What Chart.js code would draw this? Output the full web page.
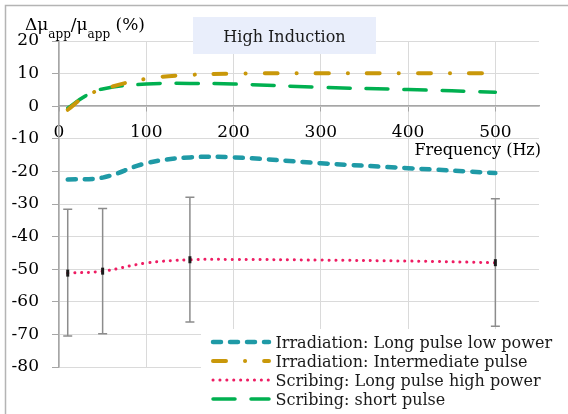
<!DOCTYPE html>
<html>
<head>
<meta charset="utf-8">
<script src="https://cdn.jsdelivr.net/npm/chart.js@4.4.1/dist/chart.umd.min.js"></script>
<style>
  body { margin: 0; background: #fff; }
  canvas { display: block; }
</style>
</head>
<body>
<canvas id="chart1" width="568" height="414"></canvas>
<script>
// values (frequency in Hz, change in %)
const freqIrrLong = [10, 50, 100, 150, 200, 300, 400, 500];
const irrLong = [-22.5, -21.9, -17.5, -15.7, -15.7, -17.5, -19.0, -20.5];
const freqIrrMid = [10, 30, 50, 100, 150, 200, 300, 400, 500];
const irrMid = [-1.1, 3.0, 5.2, 8.4, 9.6, 10.0, 10.1, 10.1, 10.1];
const freqScrLong = [10, 50, 100, 150, 200, 300, 400, 500];
const scrLong = [-51.2, -50.6, -48.1, -47.1, -47.0, -47.2, -47.5, -48.0];
const freqScrShort = [10, 30, 50, 100, 150, 200, 300, 400, 500];
const scrShort = [-0.6, 3.1, 5.3, 6.8, 7.0, 6.8, 5.8, 5.1, 4.3];

// error bars on the scribing long pulse curve
const errFreq = [10, 50, 150, 500];
const errMean = [-51.2, -50.6, -47.1, -48.0];
const errTop = [-31.6, -31.4, -27.9, -28.4];
const errBottom = [-70.5, -69.8, -66.2, -67.5];

const seriesNames = [
  'Irradiation: Long pulse low power',
  'Irradiation: Intermediate pulse',
  'Scribing: Long pulse high power',
  'Scribing: short pulse'
];
const xTicks = [0, 100, 200, 300, 400, 500];

const serif = '"DejaVu Serif", serif';
const fs = 17;   // tick labels
const ts = 16;   // titles and legend

// line looks, shared by the chart and the hand drawn legend
const looks = [
  { color: '#1f9aa6', width: 4.5, dash: [8, 9] },
  { color: '#c9980a', width: 4, dash: [13, 19, 0.1, 19] },
  { color: '#ee1d63', width: 3, dash: [0.1, 6.8] },
  { color: '#00b050', width: 3.5, dash: [22, 16] }
];

function pts(xs, ys) {
  return xs.map((x, i) => ({ x: x, y: ys[i] }));
}

function lineSet(i, xs, ys) {
  return {
    label: seriesNames[i],
    data: pts(xs, ys),
    borderColor: looks[i].color,
    borderWidth: looks[i].width,
    borderDash: looks[i].dash,
    borderCapStyle: 'round',
    pointRadius: 0,
    tension: 0.4,
    fill: false
  };
}

// error bars, title box, axis titles, legend
const decor = {
  id: 'decor',
  beforeDraw(chart) {
    const c = chart.ctx;
    c.save();
    c.fillStyle = '#fff';
    c.fillRect(0, 0, chart.width, chart.height);
    c.restore();
  },
  beforeDatasetsDraw(chart) {
    const c = chart.ctx;
    const xs = chart.scales.x;
    const ys = chart.scales.y;
    c.save();
    c.strokeStyle = '#8c8c8c';
    c.lineWidth = 1.5;
    errFreq.forEach((f, i) => {
      const px = xs.getPixelForValue(f);
      const top = ys.getPixelForValue(errTop[i]);
      const bot = ys.getPixelForValue(errBottom[i]);
      c.beginPath();
      c.moveTo(px, top); c.lineTo(px, bot);
      c.moveTo(px - 4.5, top); c.lineTo(px + 4.5, top);
      c.moveTo(px - 4.5, bot); c.lineTo(px + 4.5, bot);
      c.stroke();
    });
    c.restore();
  },
  afterDraw(chart) {
    const c = chart.ctx;
    c.save();

    // outer frame (only top and left are inside the picture)
    c.strokeStyle = '#b4b4b4';
    c.lineWidth = 1.5;
    c.beginPath();
    c.moveTo(5.5, chart.height); c.lineTo(5.5, 5.5); c.lineTo(chart.width, 5.5);
    c.stroke();

    // title box
    c.fillStyle = '#e9eefb';
    c.fillRect(193, 17, 183, 37);
    c.fillStyle = '#1a1a1a';
    c.font = ts + 'px ' + serif;
    c.textAlign = 'center';
    c.textBaseline = 'alphabetic';
    c.fillText('High Induction', 284.5, 42);

    // y axis title with subscripts
    c.fillStyle = '#000';
    c.textAlign = 'left';
    let x = 25;
    const parts = [['Δμ', fs, 30], ['app', 12, 37.5], ['/μ', fs, 30], ['app', 12, 37.5], [' (%)', fs, 30]];
    parts.forEach(p => {
      c.font = p[1] + 'px ' + serif;
      c.fillText(p[0], x, p[2]);
      x += c.measureText(p[0]).width;
    });

    // x axis title
    c.font = ts + 'px ' + serif;
    c.textAlign = 'right';
    c.fillText('Frequency (Hz)', 541, 154.5);

    // legend
    c.fillStyle = '#fff';
    c.fillRect(201, 329, chart.width - 201, chart.height - 329);
    c.textAlign = 'left';
    c.fillStyle = '#1a1a1a';
    seriesNames.forEach((name, i) => {
      const base = 348 + i * 19;
      c.strokeStyle = looks[i].color;
      c.lineWidth = looks[i].width;
      c.lineCap = 'round';
      c.setLineDash(looks[i].dash);
      c.beginPath();
      c.moveTo(213, base - 6); c.lineTo(269, base - 6);
      c.stroke();
      c.setLineDash([]);
      c.fillText(name, 275.5, base);
    });
    c.restore();
  }
};

const ctx = document.getElementById('chart1');
new Chart(ctx, {
  type: 'line',
  data: {
    datasets: [
      lineSet(0, freqIrrLong, irrLong),
      lineSet(1, freqIrrMid, irrMid),
      lineSet(2, freqScrLong, scrLong),
      lineSet(3, freqScrShort, scrShort),
      {
        label: 'markers',
        data: pts(errFreq, errMean),
        showLine: false,
        pointStyle: 'line',
        rotation: 90,
        pointRadius: 3.5,
        pointBorderWidth: 3,
        pointBorderColor: '#1a1a1a',
        order: -1
      }
    ]
  },
  options: {
    responsive: false,
    animation: false,
    devicePixelRatio: 1,
    layout: { padding: { left: 0, top: 41, right: 29, bottom: 47 } },
    plugins: {
      legend: { display: false },
      tooltip: { enabled: false }
    },
    scales: {
      x: {
        type: 'linear',
        min: 0,
        max: 550,
        position: { y: 0 },
        afterBuildTicks: axis => { axis.ticks = xTicks.map(v => ({ value: v })); },
        afterFit: axis => { axis.height = 0; },
        grid: { color: '#dadada', tickColor: '#a6a6a6', tickLength: 5 },
        border: { color: '#a6a6a6', width: 1.5 },
        ticks: { font: { family: serif, size: fs }, color: '#000', padding: 11, maxRotation: 0 }
      },
      y: {
        min: -80,
        max: 20,
        afterFit: axis => { axis.width = 59; },
        grid: { color: '#dadada', tickColor: '#a6a6a6', tickLength: 7 },
        border: { color: '#a6a6a6', width: 1.5 },
        ticks: { stepSize: 10, font: { family: serif, size: fs }, color: '#000', padding: 13 }
      }
    }
  },
  plugins: [decor]
});
</script>
</body>
</html>
